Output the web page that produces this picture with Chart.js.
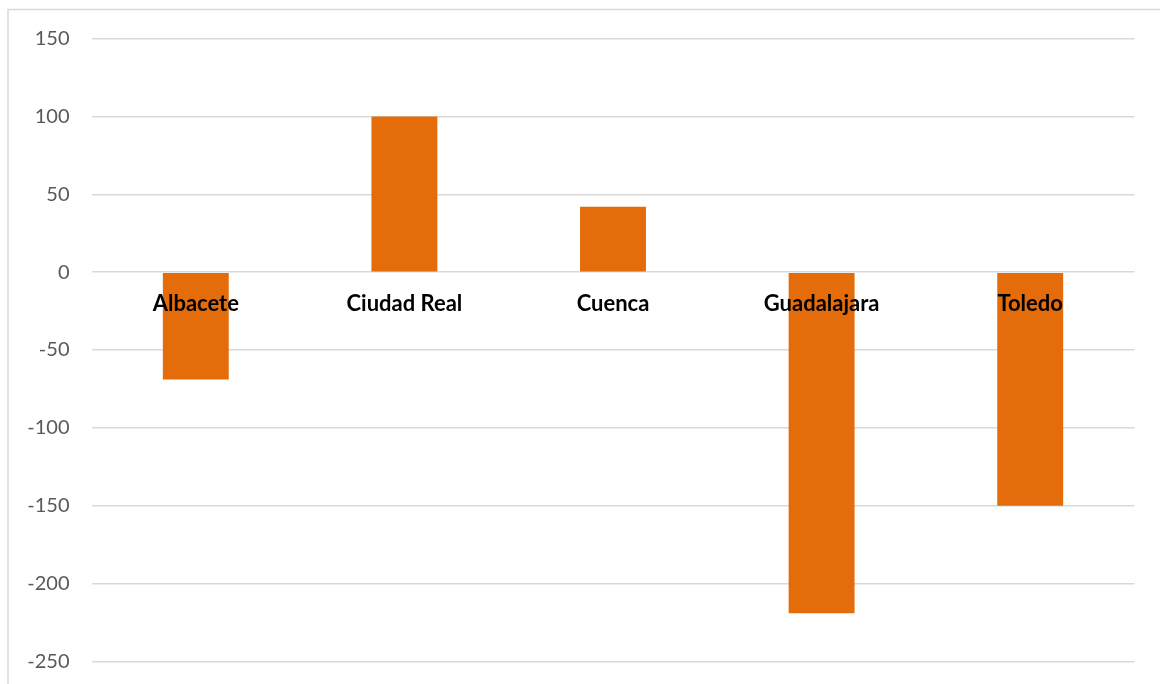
<!DOCTYPE html>
<html>
<head>
<meta charset="utf-8">
<script src="https://cdn.jsdelivr.net/npm/chart.js@4/dist/chart.umd.min.js"></script>
<style>
  html, body { margin: 0; padding: 0; background: #ffffff; }
  #wrap { position: relative; width: 1160px; height: 684px; }
</style>
</head>
<body>
<div id="wrap"><canvas id="c"></canvas></div>
<script>
const categories = ["Albacete", "Ciudad Real", "Cuenca", "Guadalajara", "Toledo"];
const values = [-69, 100, 42, -219, -150];
const yMin = -250;
const yMax = 150;
const yStep = 50;

const frame = {
  id: 'frame',
  beforeDraw(chart) {
    const ctx = chart.ctx;
    ctx.save();
    ctx.strokeStyle = '#d9d9d9';
    ctx.lineWidth = 1.5;
    ctx.beginPath();
    ctx.moveTo(8, 700);
    ctx.lineTo(8, 9.5);
    ctx.lineTo(1200, 9.5);
    ctx.stroke();
    ctx.restore();
  }
};

new Chart(document.getElementById('c'), {
  type: 'bar',
  data: {
    labels: categories,
    datasets: [{
      data: values,
      backgroundColor: '#E46C0A',
      borderWidth: 0,
      barPercentage: 0.316,
      categoryPercentage: 1.0
    }]
  },
  options: {
    responsive: true,
    maintainAspectRatio: false,
    animation: false,
    layout: { padding: { left: 0, top: 38.5, right: 25.5, bottom: 22.5 } },
    plugins: { legend: { display: false }, tooltip: { enabled: false } },
    scales: {
      x: {
        position: { y: 0 },
        grid: { display: false, drawTicks: false },
        border: { display: false },
        afterFit(scale) { scale.height = 0; },
        ticks: {
          z: 1,
          padding: 19,
          color: '#000000',
          maxRotation: 0,
          autoSkip: false,
          font: { family: 'Lato', size: 22, weight: 'bold' }
        }
      },
      y: {
        min: yMin,
        max: yMax,
        grid: { color: '#d9d9d9', lineWidth: 1.5, drawTicks: false },
        border: { display: false },
        afterFit(scale) {
          scale.width = 91.5;
          scale.paddingTop = 0;
          scale.paddingBottom = 0;
        },
        ticks: {
          stepSize: yStep,
          padding: 22,
          color: '#595959',
          font: { family: 'Lato', size: 20 }
        }
      }
    }
  },
  plugins: [frame]
});
</script>
</body>
</html>
